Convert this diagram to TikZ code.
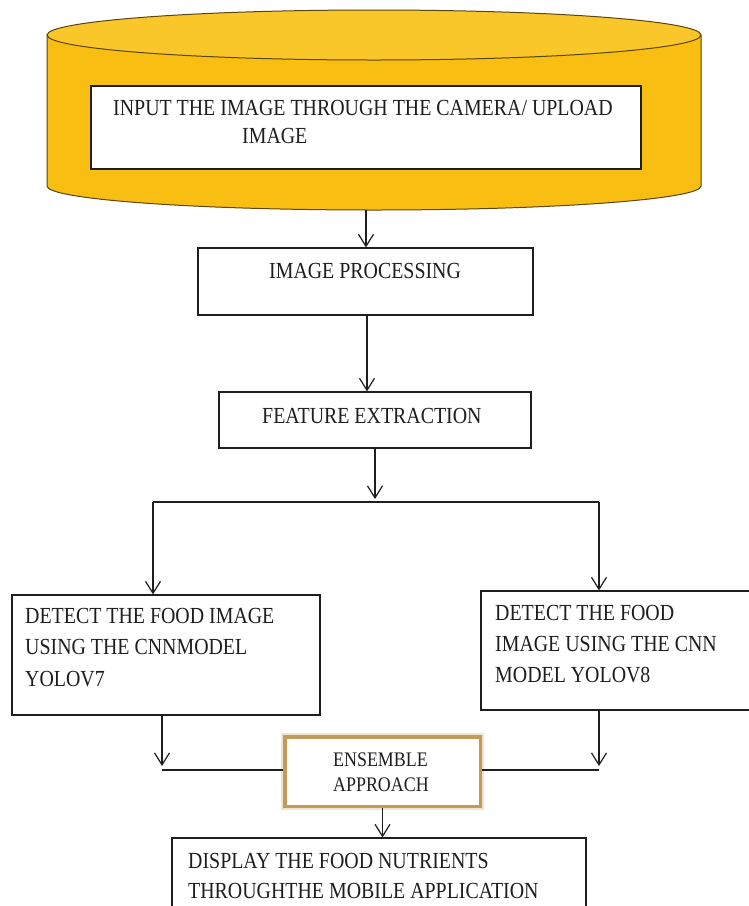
\documentclass[tikz,border=0pt]{standalone}
\usepackage{fontspec}
\setmainfont{Liberation Serif}[FakeStretch=0.865]
\usetikzlibrary{arrows.meta,calc}
\definecolor{gold}{RGB}{248,190,18}
\definecolor{goldtop}{RGB}{250,199,42}
\definecolor{goldedge}{RGB}{90,68,15}
\definecolor{tanedge}{RGB}{196,154,92}
\definecolor{tanglow}{RGB}{242,228,202}
\definecolor{ink}{RGB}{30,30,30}
\begin{document}
\begin{tikzpicture}[x=1pt,y=-1pt,
  box/.style={draw=ink,line width=1.2pt,fill=white,inner sep=0pt,rectangle},
  lbl/.style={anchor=base west,inner sep=0pt,text=ink,font=\fontsize{23}{27}\selectfont},
  slbl/.style={anchor=base west,inner sep=0pt,text=ink,font=\fontsize{20.7}{24}\selectfont},
  arr/.style={draw=ink,line width=1.2pt,-{Straight Barb[length=12pt,width=15pt,line width=1.2pt]}},
  ln/.style={draw=ink,line width=1.2pt}]
\useasboundingbox (0,0) rectangle (748,906);
\fill[white] (0,0) rectangle (748,906);
% cylinder
\fill[gold] (47,35) -- (47,186) arc[start angle=180,end angle=360,x radius=327pt,y radius=24pt] -- (701,35) -- cycle;
\draw[goldedge,line width=1pt] (47,35) -- (47,186) arc[start angle=180,end angle=360,x radius=327pt,y radius=24pt] -- (701,35);
\filldraw[fill=goldtop,draw=goldedge,line width=1pt] (374,35) ellipse[x radius=327pt,y radius=25pt];
\node[box,minimum width=550pt,minimum height=83pt] (input) at (366,127.5) {};
\node[lbl] (t1a) at (113,115) {INPUT THE IMAGE THROUGH THE CAMERA/ UPLOAD};
\node[lbl] (t1b) at (242,143) {IMAGE};
\coordinate (cylb) at (366,210);
% boxes
\node[box,minimum width=335pt,minimum height=67pt] (ip) at (365.5,281.5) {};
\node[lbl] (t2) at (269,278) {IMAGE PROCESSING};
\node[box,minimum width=312pt,minimum height=56pt] (fe) at (375,420) {};
\node[lbl] (t3) at (262,423) {FEATURE EXTRACTION};
\node[box,minimum width=308pt,minimum height=120pt] (y7) at (166,655) {};
\node[lbl] (t4a) at (25,623) {DETECT THE FOOD IMAGE};
\node[lbl] (t4b) at (25,654) {USING THE CNNMODEL};
\node[lbl] (t4c) at (25,686) {YOLOV7};
\node[box,minimum width=279pt,minimum height=119pt] (y8) at (620.5,650.5) {};
\node[lbl] (t5a) at (495,620) {DETECT THE FOOD};
\node[lbl] (t5b) at (495,651) {IMAGE USING THE CNN};
\node[lbl] (t5c) at (495,682) {MODEL YOLOV8};
\draw[tanglow,line width=7pt] (284.75,736.75) rectangle (480.25,806.25);
\node[rectangle,draw=tanedge,fill=white,line width=3.5pt,inner sep=0pt,minimum width=195.5pt,minimum height=69.5pt] (ens) at (382.5,771.5) {};
\node[slbl] (t6a) at (333,766) {ENSEMBLE};
\node[slbl] (t6b) at (333,791) {APPROACH};
\node[box,minimum width=414pt,minimum height=87pt] (disp) at (379,881.5) {};
\node[lbl] (t7a) at (188,868) {DISPLAY THE FOOD NUTRIENTS};
\node[lbl] (t7b) at (188,898) {THROUGHTHE MOBILE APPLICATION};
% connectors
\draw[arr] (cylb) -- (cylb |- ip.north);
\draw[arr] ([xshift=1.5pt]ip.south) -- ([xshift=1.5pt]ip.south |- fe.north);
\coordinate (split) at (374,499);
\coordinate (sl) at (153,502);
\coordinate (sr) at (599,502);
\draw[arr] (fe.south) -- (fe.south |- split);
\draw[ln] (sl) -- (sr);
\draw[arr] (sl) -- (sl |- y7.north);
\draw[arr] (sr) -- (sr |- y8.north);
\coordinate (jl) at (162,770);
\coordinate (jr) at (599,770);
\coordinate (jlt) at (162,766);
\coordinate (jrt) at (599,766);
\draw[arr] (jl |- y7.south) -- (jlt);
\draw[ln] (jl) -- (jl -| ens.west);
\draw[arr] (jr |- y8.south) -- (jrt);
\draw[ln] (jr) -- (jr -| ens.east);
\draw[arr] (ens.south) -- (ens.south |- disp.north);
\end{tikzpicture}
\end{document}
